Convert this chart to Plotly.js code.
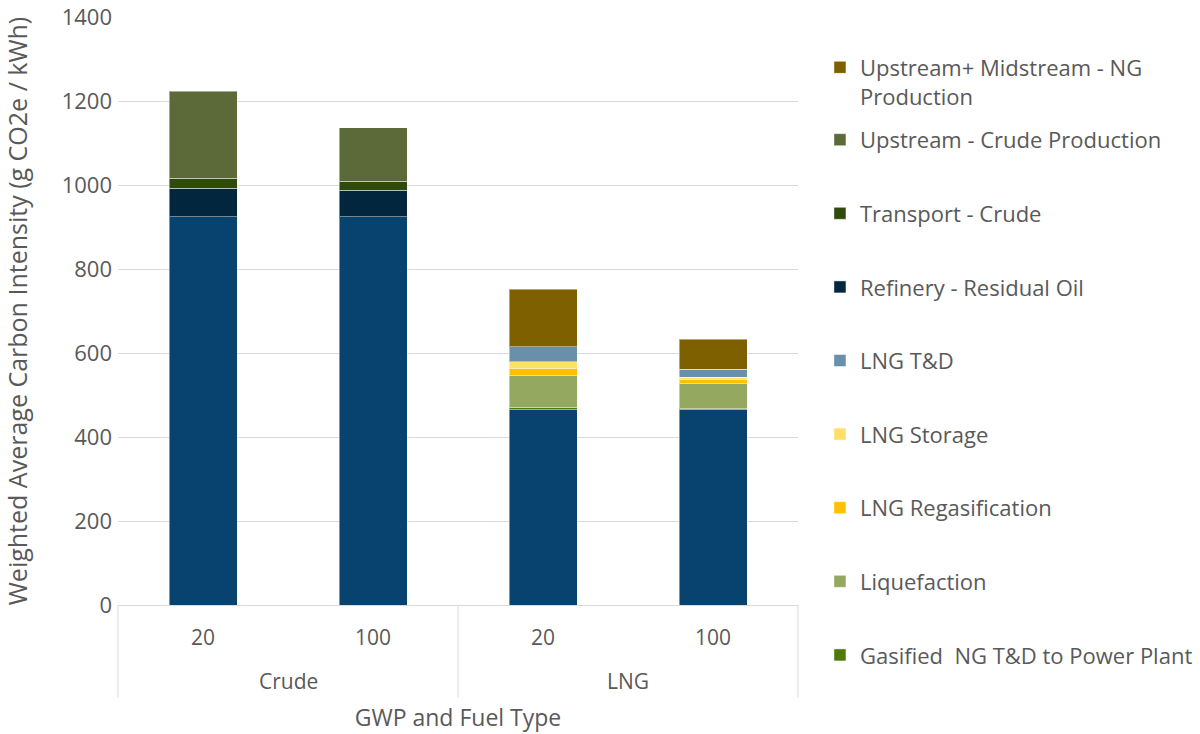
<!DOCTYPE html>
<html><head><meta charset="utf-8">
<script src="https://cdn.plot.ly/plotly-3.0.1.min.js"></script>
<style>html,body{margin:0;padding:0;background:#fff}#chart{width:1200px;height:734px}</style>
</head><body><div id="chart"></div>
<script>
// categories
const fuelTypes = ["Crude", "Crude", "LNG", "LNG"];
const gwpLabels = ["20", "100", "20", "100"];
const fuelGroups = ["Crude", "LNG"];
// series values (g CO2e / kWh), null = not applicable
const combustion   = [924, 924, 465, 465];
const gasifiedTD   = [null, null, 6, 2];
const liquefaction = [null, null, 75, 60];
const regas        = [null, null, 18, 10];
const storage      = [null, null, 15, 5];
const lngTD        = [null, null, 36, 19];
const refinery     = [68, 63, null, null];
const transport    = [24, 22, null, null];
const upstreamCrude= [207, 127, null, null];
const upMidNG      = [null, null, 137, 72];

// stacking order bottom -> top; legend shows them top -> bottom
const series = [
  {name: "Combustion", y: combustion, color: "#08426e", legend: null},
  {name: "Gasified  NG T&D to Power Plant", y: gasifiedTD, color: "#4e7a0c", legend: "legend2"},
  {name: "Liquefaction", y: liquefaction, color: "#95a85f", legend: "legend2"},
  {name: "LNG Regasification", y: regas, color: "#ffc000", legend: "legend2"},
  {name: "LNG Storage", y: storage, color: "#ffe066", legend: "legend2"},
  {name: "LNG T&D", y: lngTD, color: "#6a8fab", legend: "legend2"},
  {name: "Refinery - Residual Oil", y: refinery, color: "#03263f", legend: "legend2"},
  {name: "Transport - Crude", y: transport, color: "#2f4a0a", legend: "legend2"},
  {name: "Upstream - Crude Production", y: upstreamCrude, color: "#5b6a38", legend: "legend2"},
  {name: "Upstream+ Midstream - NG<br>Production", y: upMidNG, color: "#7f6000", legend: "legend"}
];

const gray = "#595959";
const font = "Open Sans, Lato, sans-serif";
const cats = fuelTypes.map((f, i) => f + " " + gwpLabels[i]);

const traces = series.map((s, i) => {
  const t = {
    type: "bar",
    x: cats,
    y: s.y,
    name: s.name,
    legendgroup: "g" + i,
    legendrank: 1000 - i,
    marker: {color: s.color, line: {color: "rgba(255,255,255,0.45)", width: 1}},
    hoverinfo: "name+y"
  };
  if (s.legend) { t.legend = s.legend; } else { t.showlegend = false; }
  return t;
});

// group labels centred under each pair of categories
const groupAnnotations = fuelGroups.map(g => {
  const idx = fuelTypes.map((f, i) => f === g ? i : -1).filter(i => i >= 0);
  const mid = (idx[0] + idx[idx.length - 1]) / 2;
  return {
    xref: "x", yref: "paper", x: mid, y: -0.129,
    text: g, showarrow: false, xanchor: "center", yanchor: "middle",
    font: {size: 21, color: gray, family: font}
  };
});

// divider lines between groups (axis level, in paper units)
const dividerX = [0, 0.5, 1];
const dividerShapes = dividerX.map(x => ({
  type: "line", xref: "paper", yref: "paper",
  x0: x, x1: x, y0: 0, y1: -0.157,
  line: {color: "#d9d9d9", width: 1}
}));

const layout = {
  width: 1200, height: 734,
  margin: {l: 118, r: 402, t: 17, b: 129},
  paper_bgcolor: "#fff", plot_bgcolor: "#fff",
  barmode: "stack",
  bargap: 0.6,
  font: {family: font, color: gray, size: 21},
  xaxis: {
    type: "category",
    tickvals: cats, ticktext: gwpLabels,
    showline: true, linecolor: "#d9d9d9", linewidth: 1,
    ticks: "", showgrid: false,
    ticklabelstandoff: 14,
    tickfont: {size: 21, color: gray},
    automargin: false,
    title: {text: "GWP and Fuel Type", font: {size: 23, color: gray}, standoff: 59}
  },
  yaxis: {
    range: [0, 1400], dtick: 200,
    gridcolor: "#d9d9d9", gridwidth: 1,
    zeroline: false, showline: false,
    ticks: "", ticklabelstandoff: 5,
    tickfont: {size: 22, color: gray},
    automargin: false,
    title: {text: "Weighted Average Carbon Intensity (g CO2e / kWh)", font: {size: 25, color: gray}, standoff: 27}
  },
  annotations: groupAnnotations,
  shapes: dividerShapes,
  legend: {
    xref: "container", yref: "container",
    x: 0.6833, xanchor: "left", y: 0.9366, yanchor: "top",
    bgcolor: "rgba(0,0,0,0)", font: {size: 22, color: gray, family: font},
    valign: "top", itemwidth: 30, maxheight: 700
  },
  legend2: {
    xref: "container", yref: "container",
    x: 0.6833, xanchor: "left", y: 0.838, yanchor: "top",
    traceorder: "grouped", tracegroupgap: 42,
    bgcolor: "rgba(0,0,0,0)", font: {size: 22, color: gray, family: font},
    itemwidth: 30, maxheight: 700
  }
};

Plotly.newPlot("chart", traces, layout, {displayModeBar: false, responsive: false});
</script>
</body></html>
